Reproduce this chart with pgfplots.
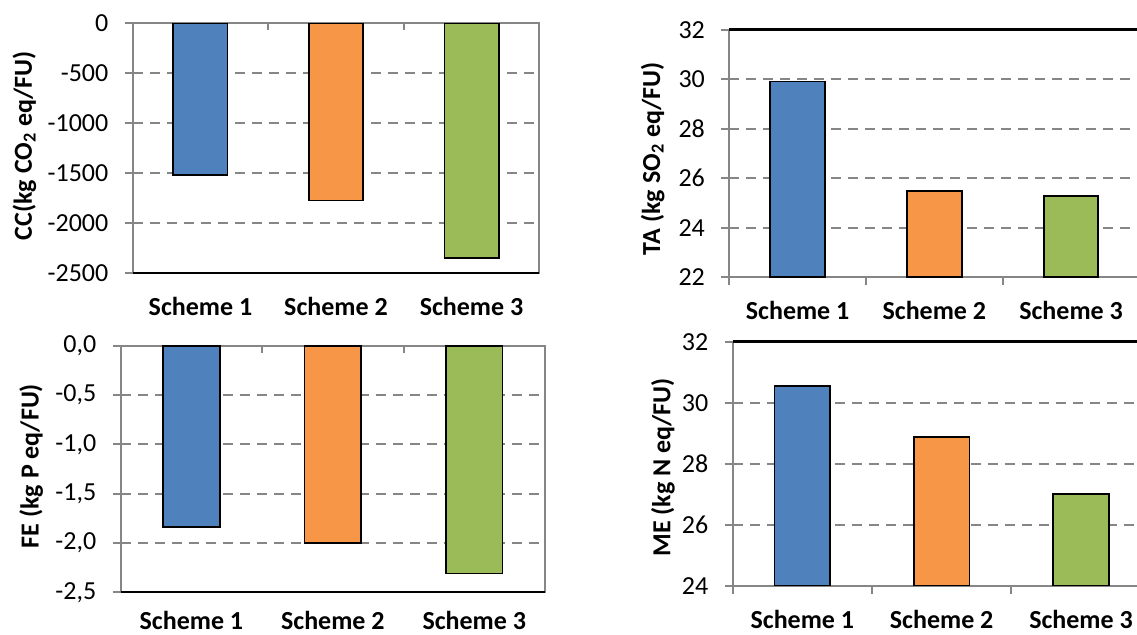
\documentclass[border=0pt]{standalone}
\usepackage{fontspec}
\setmainfont{Carlito}
\usepackage{pgfplots}
\pgfplotsset{compat=1.18}
\definecolor{cblue}{HTML}{4F81BD}
\definecolor{corange}{HTML}{F79646}
\definecolor{cgreen}{HTML}{9BBB59}
\definecolor{agray}{RGB}{134,134,134}
\pgfplotsset{
  panel/.style={
    scale only axis,
    anchor=south west,
    xmin=0.5, xmax=3.5,
    xtick={1,2,3},
    xticklabels={Scheme 1,Scheme 2,Scheme 3},
    xticklabel style={font=\fontsize{13}{15}\selectfont\bfseries, yshift=-4.5pt},
    yticklabel style={font=\fontsize{13}{15}\selectfont, xshift=-4.67pt},
    label style={font=\fontsize{13}{15}\selectfont\bfseries},
    tick pos=left,
    tick align=outside,
    major tick length=4pt,
    minor tick length=4pt,
    major x tick style={draw=none},
    minor x tick style={agray, line width=1pt},
    major y tick style={agray, line width=1pt},
    axis line style={agray, line width=1pt},
    ymajorgrids,
    major grid style={agray, line width=1pt, dash pattern=on 5pt off 3.5pt},
    clip mode=individual,
  },
  bars/.style={ybar, bar width=0.4, bar shift=0pt, draw=black, line width=0.9pt},
}
\begin{document}
\begin{tikzpicture}
\useasboundingbox (0,0) rectangle (568.5pt,317.5pt);
\clip (0,0) rectangle (568.5pt,317.5pt);
% CC
\begin{axis}[panel, at={(66.35pt,180.85pt)}, width=203.3pt, height=125pt,
  ymin=-2500, ymax=0, ytick={-2500,-2000,...,0},
  yticklabels={-2500,-2000,-1500,-1000,-500,0},
  ylabel={CC(kg CO\textsubscript{2} eq/FU)},
  ylabel style={at={(axis description cs:-0.266,0.51)},anchor=center}]
\addplot[bars, fill=cblue] coordinates {(1,-1520)};
\addplot[bars, fill=corange] coordinates {(2,-1772)};
\addplot[bars, fill=cgreen] coordinates {(3,-2351)};
\draw[agray, line width=1pt] (axis cs:1.5,0) -- ([yshift=-3.5pt]axis cs:1.5,0);
\draw[agray, line width=1pt] (axis cs:2.5,0) -- ([yshift=-3.5pt]axis cs:2.5,0);
\draw[black, line width=1.2pt] (rel axis cs:0,0) -- (rel axis cs:1,0);
\end{axis}
% TA
\begin{axis}[panel, at={(364.65pt,178.9pt)}, width=205.05pt, height=123.75pt,
  ymin=22, ymax=32, ytick={22,24,...,32},
  yticklabels={22,24,26,28,30,32},
  minor xtick={0.5,1.5,2.5},
  ylabel={TA (kg SO\textsubscript{2} eq/FU)},
  ylabel style={at={(axis description cs:-0.187,0.478)},anchor=center}]
\addplot[bars, fill=cblue] coordinates {(1,29.91)};
\addplot[bars, fill=corange] coordinates {(2,25.48)};
\addplot[bars, fill=cgreen] coordinates {(3,25.29)};
\draw[black, line width=1.2pt] (rel axis cs:0,1) -- (rel axis cs:1,1);
\end{axis}
% FE
\begin{axis}[panel, at={(60.35pt,21.35pt)}, width=212.15pt, height=123.3pt,
  ymin=-2.5, ymax=0, ytick={-2.5,-2,-1.5,-1,-0.5,0},
  yticklabels={{-2,5},{-2,0},{-1,5},{-1,0},{-0,5},{0,0}},
  xticklabel style={inner sep=1pt, yshift=0.2pt},
  ylabel={FE (kg P eq/FU)},
  ylabel style={at={(axis description cs:-0.211,0.512)},anchor=center}]
\addplot[bars, fill=cblue] coordinates {(1,-1.84)};
\addplot[bars, fill=corange] coordinates {(2,-2.0)};
\addplot[bars, fill=cgreen] coordinates {(3,-2.31)};
\draw[agray, line width=1pt] (axis cs:1.5,0) -- ([yshift=-3.5pt]axis cs:1.5,0);
\draw[agray, line width=1pt] (axis cs:2.5,0) -- ([yshift=-3.5pt]axis cs:2.5,0);
\draw[black, line width=1.2pt] (rel axis cs:0,0) -- (rel axis cs:1,0);
\end{axis}
% ME
\begin{axis}[panel, at={(366.35pt,24.5pt)}, width=209pt, height=122.15pt,
  ymin=24, ymax=32, ytick={24,26,...,32},
  yticklabels={24,26,28,30,32},
  minor xtick={0.5,1.5,2.5},
  ylabel={ME (kg N eq/FU)},
  ylabel style={at={(axis description cs:-0.167,0.485)},anchor=center}]
\addplot[bars, fill=cblue] coordinates {(1,30.55)};
\addplot[bars, fill=corange] coordinates {(2,28.87)};
\addplot[bars, fill=cgreen] coordinates {(3,27.02)};
\draw[black, line width=1.2pt] (rel axis cs:0,1) -- (rel axis cs:1,1);
\end{axis}
\end{tikzpicture}
\end{document}
